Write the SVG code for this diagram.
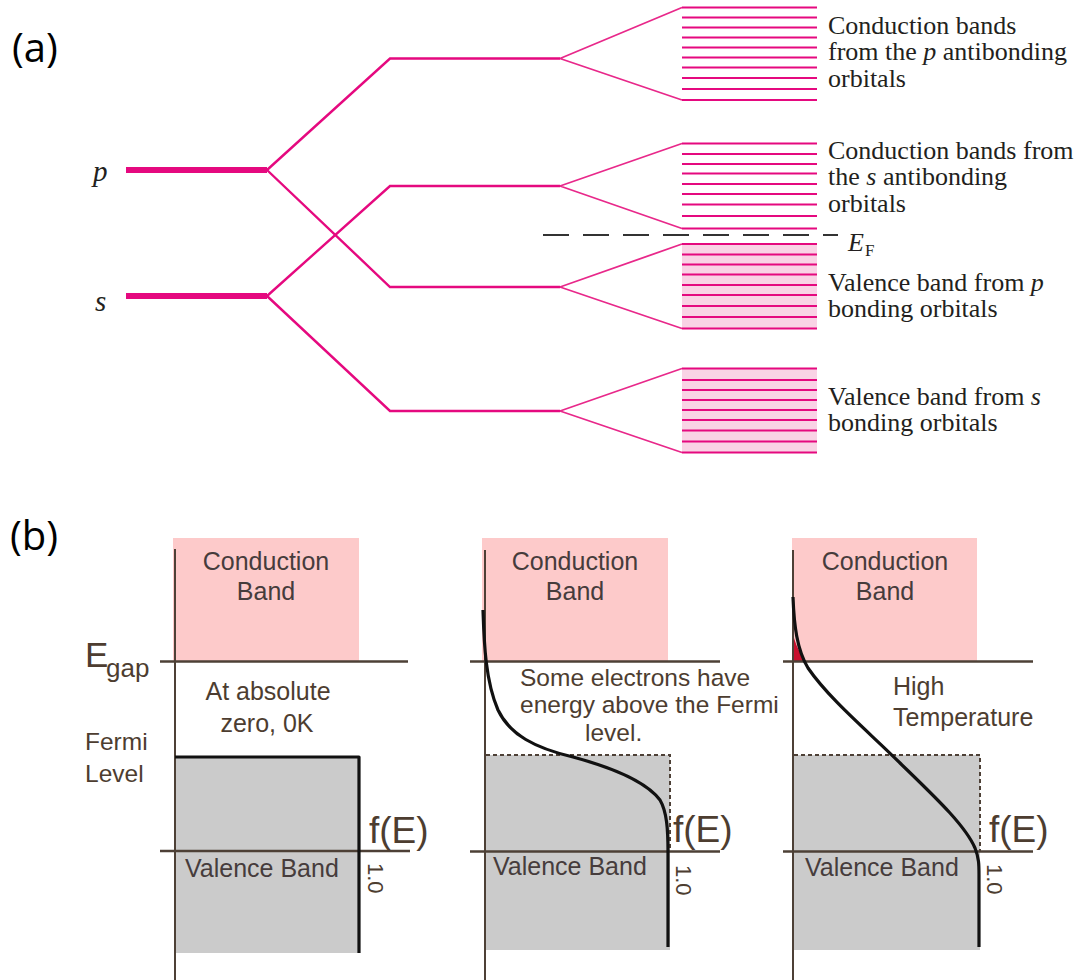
<svg xmlns="http://www.w3.org/2000/svg" width="1087" height="980" viewBox="0 0 1087 980">
<style>
.mo{stroke:#e5097f;stroke-width:2.4;fill:none;stroke-linejoin:miter}
.lvl{stroke:#e5097f;stroke-width:6;fill:none}
.fan{stroke:#e8288a;stroke-width:1.8;fill:none}
.bl{stroke:#e5097f;stroke-width:2;fill:none}
.vfill{fill:#f9d3e5}
.serif{font-family:"Liberation Serif","Times New Roman",serif;font-size:26px;fill:#231f20}
.it{font-style:italic}
.lab{font-family:"Open Sans","Liberation Sans",sans-serif;font-size:40px;fill:#000}
.ax{stroke:#4d4036;stroke-width:2;fill:none}
.hl{stroke:#4d4036;stroke-width:2.5;fill:none}
.cb{fill:#fdcaca}
.vb{fill:#cbcbcb}
.dsh{stroke:#4d4036;stroke-width:2;stroke-dasharray:4 3;fill:none}
.fd{stroke:#111;stroke-width:3.2;fill:none;stroke-linejoin:round}
.sans{font-family:"Liberation Sans",Arial,sans-serif;font-size:25px;fill:#4d3d30}
.sm{font-size:24.5px}
.fe{font-size:37px}
.one{font-size:22px}
.dk{fill:#463c3c}
</style>
<rect width="1087" height="980" fill="#fff"/>

<!-- ===== (a) ===== -->
<text class="lab" x="12" y="62">(a)</text>

<g id="level-p">
<line class="lvl" x1="126" y1="170" x2="267" y2="170"/>
<text class="serif it" x="93" y="181" style="font-size:29px">p</text>
</g>
<g id="level-s">
<line class="lvl" x1="126" y1="296" x2="267" y2="296"/>
<text class="serif it" x="95" y="311" style="font-size:29px">s</text>
</g>

<g id="connectors">
<path class="mo" d="M267,170 L390,58.5 H560"/>
<path class="mo" d="M267,170 L390,287 H560"/>
<path class="mo" d="M267,296 L390,186 H560"/>
<path class="mo" d="M267,296 L390,411 H560"/>
<path class="fan" d="M560,58.5 L682,7.5 M560,58.5 L682,100"/>
<path class="fan" d="M560,186 L682,143.5 M560,186 L682,228.5"/>
<path class="fan" d="M560,287 L682,244 M560,287 L682,328.5"/>
<path class="fan" d="M560,411 L682,368.5 M560,411 L682,452.5"/>
</g>

<g id="band-p-antibonding">
<path class="bl" d="M682,7.5H817M682,17.5H817M682,27.5H817M682,37.5H817M682,47.5H817M682,57.5H817M682,67.5H817M682,78H817M682,89H817M682,100H817"/>
<text class="serif" x="828" y="33.5">Conduction bands</text>
<text class="serif" x="828" y="60">from the <tspan class="it">p</tspan> antibonding</text>
<text class="serif" x="828" y="86.5">orbitals</text>
</g>

<g id="band-s-antibonding">
<path class="bl" d="M682,143.5H817M682,154H817M682,164H817M682,173.5H817M682,184H817M682,194H817M682,204.5H817M682,216H817M682,228.5H817"/>
<text class="serif" x="828" y="158.5">Conduction bands from</text>
<text class="serif" x="828" y="185">the <tspan class="it">s</tspan> antibonding</text>
<text class="serif" x="828" y="211.5">orbitals</text>
</g>

<g id="fermi-level-a">
<line x1="543" y1="235" x2="838" y2="235" stroke="#333" stroke-width="2" stroke-dasharray="26 14"/>
<text class="serif it" x="848" y="251">E</text>
<text class="serif" x="865" y="256" style="font-size:17px">F</text>
</g>

<g id="band-p-bonding">
<rect class="vfill" x="682" y="244" width="135" height="84.5"/>
<path class="bl" d="M682,244H817M682,254.5H817M682,264.5H817M682,274.5H817M682,285H817M682,295H817M682,306H817M682,317H817M682,328.5H817"/>
<text class="serif" x="828" y="290.5">Valence band from <tspan class="it">p</tspan></text>
<text class="serif" x="828" y="317">bonding orbitals</text>
</g>

<g id="band-s-bonding">
<rect class="vfill" x="682" y="368.5" width="135" height="84"/>
<path class="bl" d="M682,368.5H817M682,380H817M682,390H817M682,400H817M682,410H817M682,420H817M682,430.5H817M682,441.5H817M682,452.5H817"/>
<text class="serif" x="828" y="404.5">Valence band from <tspan class="it">s</tspan></text>
<text class="serif" x="828" y="431">bonding orbitals</text>
</g>

<!-- ===== (b) ===== -->
<text class="lab" x="10" y="550">(b)</text>

<g id="axis-labels">
<text class="sans" x="85" y="667" style="font-size:35px">E</text>
<text class="sans" x="106" y="677" style="font-size:26px">gap</text>
<text class="sans sm" x="85" y="750">Fermi</text>
<text class="sans sm" x="85" y="782">Level</text>
</g>

<g id="panel-0K">
<rect class="cb" x="173" y="538" width="186" height="123"/>
<rect class="vb" x="176" y="757" width="183" height="196"/>
<line class="ax" x1="175" y1="549" x2="175" y2="980"/>
<line class="hl" x1="160" y1="661.5" x2="408" y2="661.5"/>
<line class="hl" x1="160" y1="851" x2="410" y2="851"/>
<path class="fd" d="M175,757 H359 V953"/>
<text class="sans dk" x="266" y="570" text-anchor="middle">Conduction</text>
<text class="sans dk" x="266" y="600" text-anchor="middle">Band</text>
<text class="sans" x="268" y="700" text-anchor="middle">At absolute</text>
<text class="sans" x="267" y="732" text-anchor="middle">zero, 0K</text>
<text class="sans dk" x="185" y="877">Valence Band</text>
<text class="sans fe" x="369" y="843">f(E)</text>
<text class="sans one" transform="translate(368,863) rotate(90)">1.0</text>
</g>

<g id="panel-some">
<rect class="cb" x="482" y="538" width="186" height="123"/>
<rect class="vb" x="486" y="755" width="184" height="195"/>
<line class="ax" x1="485" y1="550" x2="485" y2="980"/>
<line class="hl" x1="470" y1="661.5" x2="720" y2="661.5"/>
<line class="hl" x1="470" y1="851.5" x2="720" y2="851.5"/>
<path class="dsh" d="M486,755 H670 V851"/>
<path class="fd" d="M483,610 C484,640 485,680 498,710 C510,735 535,748 573,757 C610,767 645,780 660,800 C667,812 668,830 668,852 L668,947"/>
<text class="sans dk" x="575" y="570" text-anchor="middle">Conduction</text>
<text class="sans dk" x="575" y="600" text-anchor="middle">Band</text>
<text class="sans sm" x="520" y="686">Some electrons have</text>
<text class="sans sm" x="520" y="713">energy above the Fermi</text>
<text class="sans sm" x="585" y="741">level.</text>
<text class="sans dk" x="493" y="875">Valence Band</text>
<text class="sans fe" x="673" y="842">f(E)</text>
<text class="sans one" transform="translate(676,865) rotate(90)">1.0</text>
</g>

<g id="panel-high">
<rect class="cb" x="792" y="538" width="185" height="123"/>
<rect class="vb" x="794" y="755" width="186" height="195"/>
<path d="M794,638 C797,648 801,655 806,661.5 L794,661.5 Z" fill="#c8102e"/>
<line class="ax" x1="793" y1="550" x2="793" y2="980"/>
<line class="hl" x1="783" y1="661.5" x2="1033" y2="661.5"/>
<line class="hl" x1="783" y1="851.5" x2="1033" y2="851.5"/>
<path class="dsh" d="M794,755 H980 V851"/>
<path class="fd" d="M793,597 C794,625 797,650 808,668 C830,700 870,733 900,763 C935,797 965,825 975,848 C979,858 979,865 979,875 L979,947"/>
<text class="sans dk" x="885" y="570" text-anchor="middle">Conduction</text>
<text class="sans dk" x="885" y="600" text-anchor="middle">Band</text>
<text class="sans" x="893" y="695">High</text>
<text class="sans" x="893" y="726">Temperature</text>
<text class="sans dk" x="805" y="876">Valence Band</text>
<text class="sans fe" x="989" y="842">f(E)</text>
<text class="sans one" transform="translate(987,864) rotate(90)">1.0</text>
</g>
</svg>
